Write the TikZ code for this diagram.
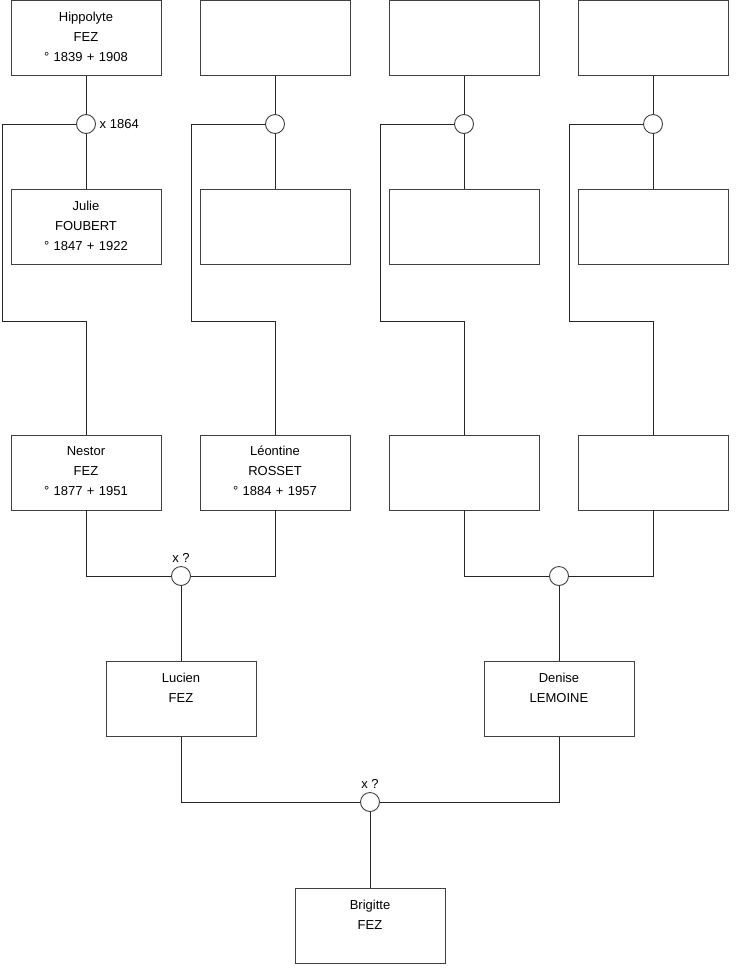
\documentclass[tikz,border=0pt]{standalone}
\usepackage{fontspec}
\setmainfont{Liberation Sans}
\usetikzlibrary{positioning}

\begin{document}
\begin{tikzpicture}[
  x=1pt, y=-1pt,
  font=\fontsize{13}{20}\selectfont,
  line width=0.9pt,
  person/.style={
    draw=black!75,
    align=center,
    text width=150pt,
    minimum width=150pt,
    minimum height=75pt,
    text height=20.5pt,
    text depth=54.5pt,
    inner sep=0pt
  },
  union/.style={
    circle,
    draw=black!75,
    fill=white,
    minimum size=19pt,
    inner sep=0pt
  },
  link/.style={draw=black!85}
]
\useasboundingbox (0,0) rectangle (740,975);
% grand-parents
\node[person] (hippolyte) at (86,38) {Hippolyte\\FEZ\\° 1839 + 1908};
\node[person] (gp2) at (275,38) {};
\node[person] (gp3) at (464,38) {};
\node[person] (gp4) at (653,38) {};
\node[union,label={[label distance=0pt]right:x 1864}] (u1) at (86,124) {};
\node[union] (u2) at (275,124) {};
\node[union] (u3) at (464,124) {};
\node[union] (u4) at (653,124) {};
\node[person] (julie) at (86,227) {Julie\\FOUBERT\\° 1847 + 1922};
\node[person] (gm2) at (275,227) {};
\node[person] (gm3) at (464,227) {};
\node[person] (gm4) at (653,227) {};
% parents
\node[person] (nestor) at (86,472.5) {Nestor\\FEZ\\° 1877 + 1951};
\node[person] (leontine) at (275,472.5) {Léontine\\ROSSET\\° 1884 + 1957};
\node[person] (p3) at (464,472.5) {};
\node[person] (p4) at (653,472.5) {};
\node[union,label={[label distance=0pt]above:x ?}] (u5) at (181,576) {};
\node[union] (u6) at (559,576) {};
\node[person] (lucien) at (181,699) {Lucien\\FEZ};
\node[person] (denise) at (559,699) {Denise\\LEMOINE};
\node[union,label={[label distance=0pt]above:x ?}] (u7) at (370,802) {};
\node[person] (brigitte) at (370,926) {Brigitte\\FEZ};

\draw[link] (hippolyte) -- (u1);
\draw[link] (gp2) -- (u2);
\draw[link] (gp3) -- (u3);
\draw[link] (gp4) -- (u4);
\draw[link] (u1) -- (julie);
\draw[link] (u2) -- (gm2);
\draw[link] (u3) -- (gm3);
\draw[link] (u4) -- (gm4);
\draw[link] (u1.west) -| (2,321) -| (nestor.north);
\draw[link] (u2.west) -| (191,321) -| (leontine.north);
\draw[link] (u3.west) -| (380,321) -| (p3.north);
\draw[link] (u4.west) -| (569,321) -| (p4.north);
\draw[link] (nestor.south) |- (u5.west);
\draw[link] (leontine.south) |- (u5.east);
\draw[link] (p3.south) |- (u6.west);
\draw[link] (p4.south) |- (u6.east);
\draw[link] (u5) -- (lucien);
\draw[link] (u6) -- (denise);
\draw[link] (lucien.south) |- (u7.west);
\draw[link] (denise.south) |- (u7.east);
\draw[link] (u7) -- (brigitte);
\end{tikzpicture}
\end{document}
